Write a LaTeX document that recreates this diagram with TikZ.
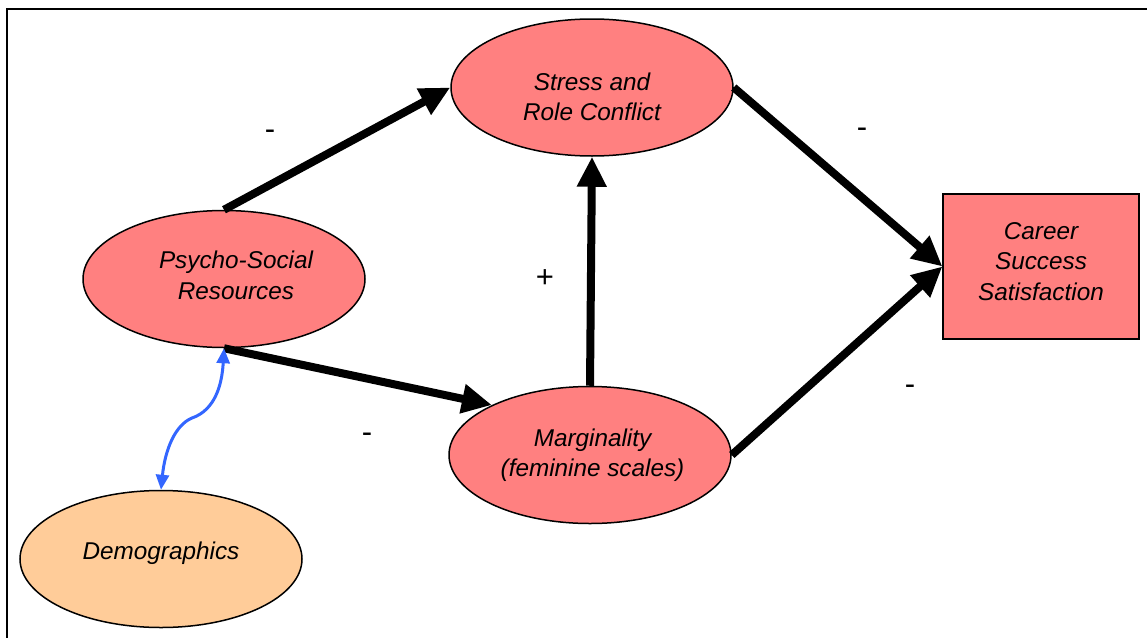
\documentclass[tikz,border=0pt]{standalone}
\usepackage{fontspec}
\setmainfont{Liberation Sans}
\usetikzlibrary{arrows.meta,shapes.geometric}
\definecolor{salmon}{RGB}{255,128,128}
\definecolor{peach}{RGB}{255,204,153}
\definecolor{linkblue}{RGB}{51,102,255}
\begin{document}
\begin{tikzpicture}[x=1pt,y=-1pt,
  font=\fontsize{24.3}{30.5}\selectfont\itshape,
  oval/.style={ellipse,draw=black,line width=1.5pt,fill=salmon,minimum width=282pt,minimum height=137pt,inner sep=0pt,align=center},
  boxnode/.style={rectangle,draw=black,line width=1.2pt,fill=salmon,minimum width=196pt,minimum height=145pt,inner sep=0pt,align=center},
  bigarrow/.style={line width=8pt,-{Triangle[length=30pt,width=28pt]}},
  bluearrow/.style={draw=linkblue,line width=3pt,{Triangle[length=15pt,width=13pt]}-{Triangle[length=15pt,width=13pt]}},
  sign/.style={font=\fontsize{31}{32}\selectfont\upshape}
]
\useasboundingbox (0,0) rectangle (1147,637);
\clip (0,0) rectangle (1147,637);
\draw[line width=1.5pt] (7,660) -- (7,9) -- (1170,9);

\node[oval] (stress) at (592,87.5) {\rule{0pt}{36pt}Stress and\\Role Conflict};
\node[oval] (psy) at (224,279) {\hspace*{24pt}Psycho-Social\\\hspace*{24pt}Resources\rule[-8pt]{0pt}{8pt}};
\node[oval] (marg) at (590,455) {\hspace*{5pt}Marginality\\\hspace*{5pt}(feminine scales)};
\node[oval,fill=peach] (demo) at (161,559) {Demographics\rule[-17pt]{0pt}{17pt}};
\node[boxnode] (career) at (1041,266.5) {Career\\Success\\Satisfaction\rule[-10pt]{0pt}{10pt}};

\draw[bigarrow] (psy.north) -- (stress.west);
\draw[bigarrow] (psy.south) -- (marg.153);
\draw[bigarrow] (marg.north) -- (stress.south);
\draw[bigarrow] (stress.east) -- (career.west);
\draw[bigarrow] (marg.east) -- (career.west);

\coordinate (bend) at (192,418);
\draw[bluearrow] (psy.south) .. controls (222,385) and (215,410) .. (bend) .. controls (175,425) and (165,450) .. (demo.north);

\node[sign] (s1) at (270,135) {-};
\node[sign] (s2) at (862,133) {-};
\node[sign] (s3) at (545,279) {+};
\node[sign] (s4) at (367,438) {-};
\node[sign] (s5) at (910,390) {-};
\end{tikzpicture}
\end{document}
